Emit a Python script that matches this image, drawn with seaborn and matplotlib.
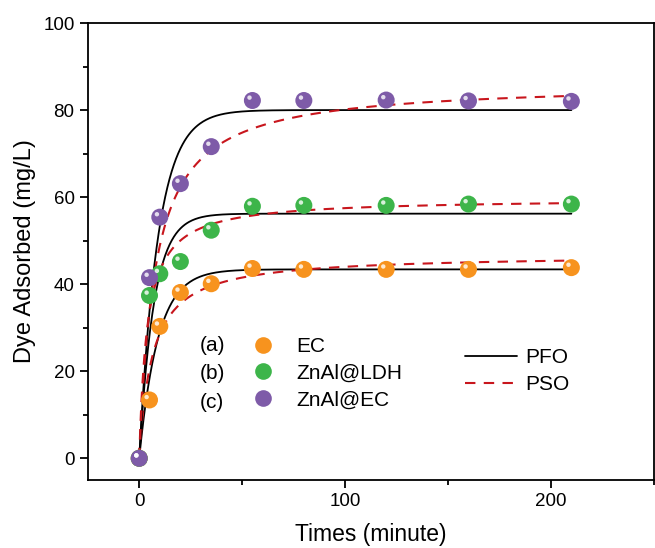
import matplotlib
matplotlib.use("Agg")
import matplotlib.pyplot as plt
from matplotlib.lines import Line2D
from matplotlib.path import Path
from matplotlib.ticker import MultipleLocator
import numpy as np
import pandas as pd
import seaborn as sns

# measured points
TIMES = [0, 5, 10, 20, 35, 55, 80, 120, 160, 210]
EC = [0, 13.4, 30.3, 38.1, 40.1, 43.6, 43.4, 43.4, 43.4, 43.8]
LDH = [0, 37.4, 42.4, 45.2, 52.4, 57.9, 58.1, 58.1, 58.4, 58.4]
ZNAL_EC = [0, 41.5, 55.4, 63.1, 71.6, 82.2, 82.2, 82.3, 82.1, 82.0]

SAMPLES = ["EC", "ZnAl@LDH", "ZnAl@EC"]
TAGS = ["(a)", "(b)", "(c)"]
COLORS = ["#F7931E", "#3DB54A", "#7E5BA8"]

# fitted kinetic parameters (qe, k)
PFO_QE = [43.4, 56.2, 80.0]
PFO_K = [0.11, 0.14, 0.11]
PSO_QE = [46.8, 59.7, 86.3]
PSO_K = [0.00336, 0.00433, 0.00151]
T_END = 210

sns.set_style("ticks")
plt.rcParams["font.family"] = ["Liberation Sans", "DejaVu Sans"]
plt.rcParams.update({
    "text.color": "black",
    "axes.labelcolor": "black",
    "axes.edgecolor": "black",
    "xtick.color": "black",
    "ytick.color": "black",
})

points = pd.DataFrame(
    {
        "time": TIMES * 3,
        "q": EC + LDH + ZNAL_EC,
        "sample": [s for s in SAMPLES for _ in TIMES],
    }
)

t = np.linspace(0, T_END, 400)
rows = []
for name, qe1, k1, qe2, k2 in zip(SAMPLES, PFO_QE, PFO_K, PSO_QE, PSO_K):
    rows.append(pd.DataFrame({"time": t, "q": qe1 * (1 - np.exp(-k1 * t)), "sample": name, "model": "PFO"}))
    rows.append(pd.DataFrame({"time": t, "q": qe2 ** 2 * k2 * t / (1 + qe2 * k2 * t), "sample": name, "model": "PSO"}))
fits = pd.concat(rows, ignore_index=True)

fig = plt.figure(figsize=(6.55, 5.48), dpi=100)
ax = fig.add_axes([0.134, 0.124, 0.864, 0.834])

for name in SAMPLES:
    sub = fits[fits["sample"] == name]
    sns.lineplot(data=sub[sub["model"] == "PFO"], x="time", y="q", color="black", lw=1.3, ax=ax, legend=False)
    sns.lineplot(data=sub[sub["model"] == "PSO"], x="time", y="q", color="#C8161D", lw=1.5,
                 dashes=False, ax=ax, legend=False)
# dash style for PSO lines
for line in ax.get_lines()[1::2]:
    line.set_dashes([5, 4])

palette = dict(zip(SAMPLES, COLORS))
sns.scatterplot(data=points, x="time", y="q", hue="sample", palette=palette, s=150,
                edgecolor="none", ax=ax, legend=False, zorder=3)

# little highlight on each sphere; the lone MOVETO keeps the marker from being rescaled
spot = Path.circle(center=(-0.17, 0.17), radius=0.13)
shine = Path(np.vstack([[[0.5, 0.5]], spot.vertices]), np.concatenate([[Path.MOVETO], spot.codes]))
ax.scatter(points["time"], points["q"], s=150, marker=shine, color="white", alpha=0.8,
           edgecolor="none", zorder=4)

ax.set_xlim(-25, 250)
ax.set_ylim(-5, 100)
ax.xaxis.set_major_locator(MultipleLocator(100))
ax.xaxis.set_minor_locator(MultipleLocator(50))
ax.yaxis.set_major_locator(MultipleLocator(20))
ax.yaxis.set_minor_locator(MultipleLocator(10))
ax.tick_params(axis="both", which="major", direction="out", length=6, width=1.3, labelsize=13.5)
ax.tick_params(axis="both", which="minor", direction="out", length=3.5, width=1.3)
for sp in ax.spines.values():
    sp.set_linewidth(1.3)
    sp.set_visible(True)
ax.set_xlabel("Times (minute)", fontsize=16.5, labelpad=9)
ax.set_ylabel("Dye Adsorbed (mg/L)", fontsize=17, labelpad=5)

sample_handles = [Line2D([], [], ls="none", marker="o", ms=12, mfc=c, mec="none") for c in COLORS]
leg1 = ax.legend(sample_handles, SAMPLES, loc="center left", bbox_to_anchor=(0.291, 0.234),
                 frameon=False, fontsize=15, handlelength=1.0, handletextpad=1.1,
                 labelspacing=0.37, borderpad=0, borderaxespad=0)
ax.add_artist(leg1)
for i, tag in enumerate(TAGS):
    ax.text(0.198, 0.295 - i * 0.0624, tag, transform=ax.transAxes, fontsize=15, va="center")

model_handles = [Line2D([], [], color="black", lw=1.3),
                 Line2D([], [], color="#C8161D", lw=1.5, dashes=[5, 4])]
ax.legend(model_handles, ["PFO", "PSO"], loc="center left", bbox_to_anchor=(0.666, 0.2385),
          frameon=False, fontsize=15, handlelength=2.5, handletextpad=0.4,
          labelspacing=0.37, borderpad=0, borderaxespad=0)

fig.savefig("out.png", dpi=100)
